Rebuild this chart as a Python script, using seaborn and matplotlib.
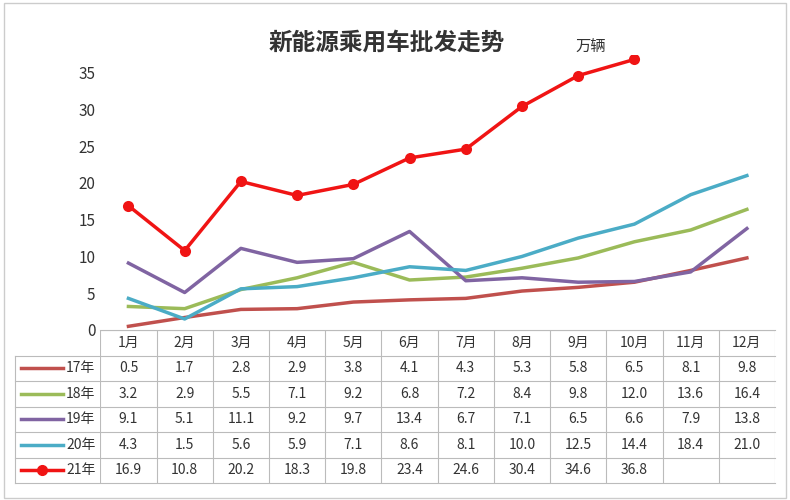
import matplotlib.pyplot as plt
import seaborn as sns
import pandas as pd

plt.rcParams["font.family"] = ["Noto Sans CJK SC", "Noto Sans CJK JP", "Noto Sans CJK TC",
                               "Noto Sans CJK KR", "DejaVu Sans"]

months = ["1月", "2月", "3月", "4月", "5月", "6月", "7月", "8月", "9月", "10月", "11月", "12月"]
years = ["17年", "18年", "19年", "20年", "21年"]
v17 = [0.5, 1.7, 2.8, 2.9, 3.8, 4.1, 4.3, 5.3, 5.8, 6.5, 8.1, 9.8]
v18 = [3.2, 2.9, 5.5, 7.1, 9.2, 6.8, 7.2, 8.4, 9.8, 12.0, 13.6, 16.4]
v19 = [9.1, 5.1, 11.1, 9.2, 9.7, 13.4, 6.7, 7.1, 6.5, 6.6, 7.9, 13.8]
v20 = [4.3, 1.5, 5.6, 5.9, 7.1, 8.6, 8.1, 10.0, 12.5, 14.4, 18.4, 21.0]
v21 = [16.9, 10.8, 20.2, 18.3, 19.8, 23.4, 24.6, 30.4, 34.6, 36.8]
series = [v17, v18, v19, v20, v21]
colors = ["#C0504D", "#9BBB59", "#8064A2", "#4BACC6", "#F01414"]

rows = []
for y, vals in zip(years, series):
    for i, v in enumerate(vals):
        rows.append({"year": y, "x": i, "value": v})
df = pd.DataFrame(rows)

fig = plt.figure(figsize=(7.9, 5), dpi=100)
ax = fig.add_axes([0.127, 0.34, 0.854, 0.55])
tab = fig.add_axes([0.127, 0.034, 0.854, 0.306])

for y, c in zip(years, colors):
    d = df[df.year == y]
    if y == "21年":
        sns.lineplot(data=d, x="x", y="value", ax=ax, color=c, lw=2.5,
                     marker="o", markersize=8, markeredgewidth=0, zorder=5)
    else:
        sns.lineplot(data=d, x="x", y="value", ax=ax, color=c, lw=2.5)

ax.set_xlim(-0.5, 11.5)
ax.set_ylim(0, 37.4)
ax.set_yticks(range(0, 36, 5))
ax.set_xticks([])
ax.set_xlabel("")
ax.set_ylabel("")
ax.tick_params(axis="y", length=0, labelsize=11, colors="#333333")
for s in ["top", "right", "left"]:
    ax.spines[s].set_visible(False)
ax.spines["bottom"].set_color("#BBBBBB")

fig.text(0.49, 0.915, "新能源乘用车批发走势", ha="center", va="center",
         fontsize=17, fontweight="bold", color="#333333")
fig.text(0.728, 0.905, "万辆", ha="left", va="center", fontsize=11, color="#333333")

# data table
tab.set_xlim(-0.5, 11.5)
tab.set_ylim(6, 0)
tab.axis("off")
gc = "#BBBBBB"
x_left = -0.5 - 85 / 675 * 12
for r in range(1, 7):
    tab.plot([x_left, 11.5], [r, r], color=gc, lw=0.8, clip_on=False)
tab.plot([-0.5, 11.5], [0, 0], color=gc, lw=0.8)
for i in range(13):
    tab.plot([i - 0.5, i - 0.5], [0, 6], color=gc, lw=0.8)
tab.plot([x_left, x_left], [1, 6], color=gc, lw=0.8, clip_on=False)
for i, m in enumerate(months):
    tab.text(i, 0.5, m, ha="center", va="center", fontsize=10, color="#333333")
for r, (y, vals, c) in enumerate(zip(years, series, colors), start=1):
    kx0, kx1 = x_left + 0.1, x_left + 0.85
    tab.plot([kx0, kx1], [r + 0.5] * 2, color=c, lw=2.5, clip_on=False)
    if y == "21年":
        tab.plot([(kx0 + kx1) / 2], [r + 0.5], "o", color=c, ms=7, clip_on=False)
    tab.text(x_left + 0.9, r + 0.5, y, ha="left", va="center", fontsize=10,
             color="#333333", clip_on=False)
    for i, v in enumerate(vals):
        tab.text(i, r + 0.5, f"{v:.1f}", ha="center", va="center", fontsize=10,
                 color="#333333")

fig.patches.append(plt.Rectangle((0.005, 0.005), 0.99, 0.99, transform=fig.transFigure,
                                 fill=False, edgecolor="#CCCCCC", lw=1))
fig.savefig("out.png", dpi=100)
